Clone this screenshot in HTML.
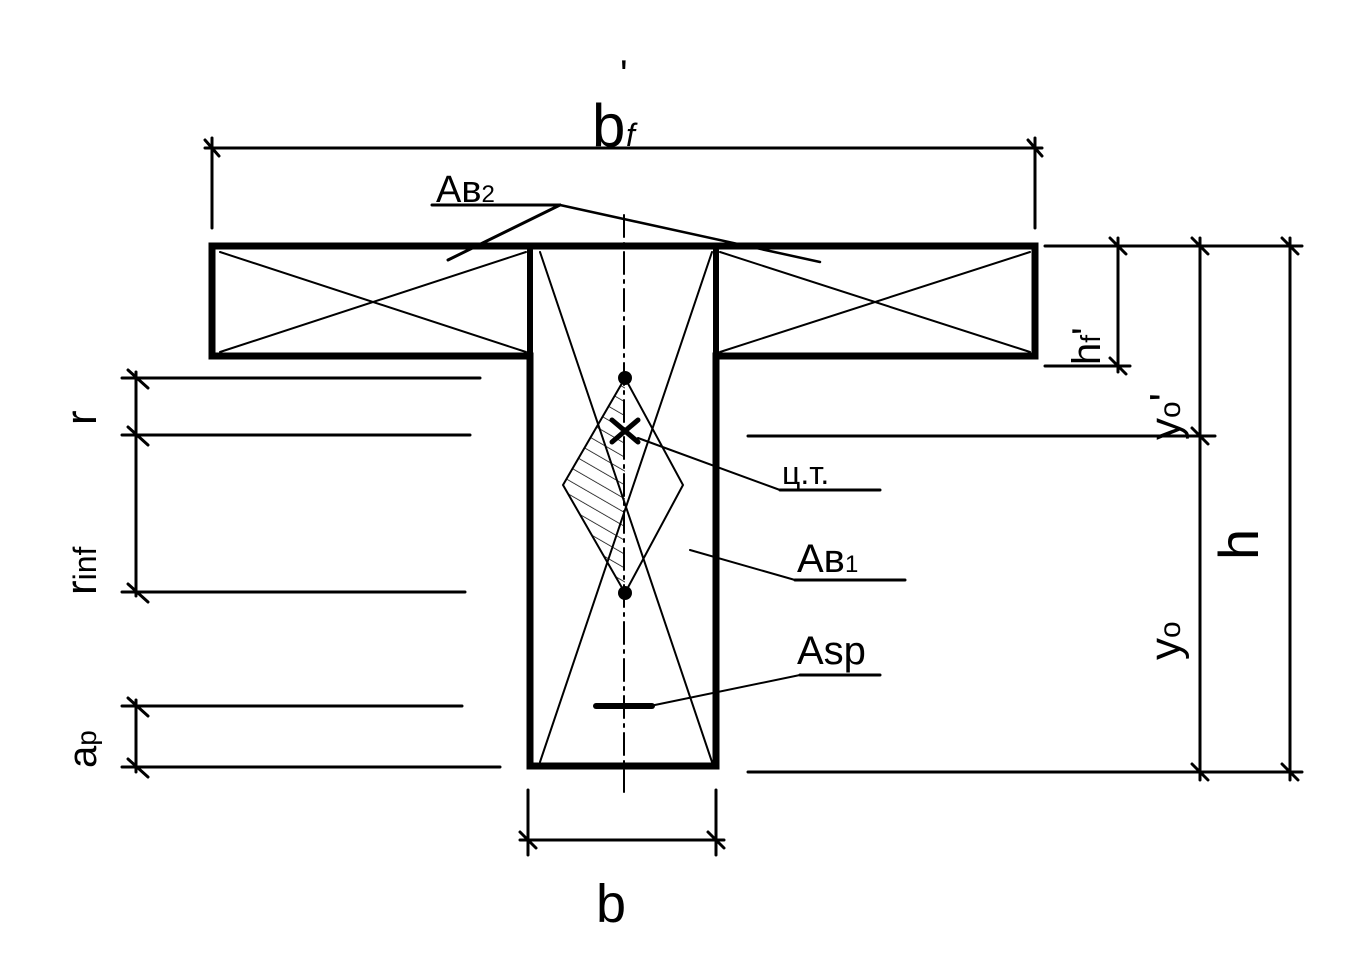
<!DOCTYPE html>
<html><head><style>body{margin:0;background:#fff}svg{display:block}</style></head>
<body>
<svg width="1370" height="980" viewBox="0 0 1370 980" xmlns="http://www.w3.org/2000/svg">
<defs>
<pattern id="h" width="12" height="12" patternUnits="userSpaceOnUse" patternTransform="rotate(-60)">
<line x1="0" y1="0" x2="0" y2="12" stroke="#000" stroke-width="1.5"/></pattern>
<clipPath id="lh"><polygon points="625,378 563,485 625,593"/></clipPath>
</defs>
<g stroke="#000" fill="none" stroke-linecap="round">
<path d="M212,246 L1035,246 L1035,356 L716,356 L716,766 L530,766 L530,356 L212,356 Z" stroke-width="7"/>
<line x1="530" y1="250" x2="530" y2="356" stroke-width="6"/>
<line x1="716" y1="250" x2="716" y2="356" stroke-width="6"/>
<g stroke-width="2">
<line x1="220" y1="252" x2="526" y2="352"/><line x1="220" y1="352" x2="526" y2="252"/>
<line x1="720" y1="252" x2="1030" y2="352"/><line x1="720" y1="352" x2="1030" y2="252"/>
<line x1="540" y1="252" x2="712" y2="762"/><line x1="712" y1="252" x2="540" y2="762"/>
</g>
<line x1="624" y1="215" x2="624" y2="792" stroke-width="2" stroke-dasharray="22,6,3,6"/>
<polygon points="625,378 683,485 625,593 563,485" stroke-width="2"/>
<polygon points="625,378 563,485 625,593" fill="url(#h)" stroke="none" clip-path="url(#lh)"/>
<path d="M612,420 L638,442 M638,420 L612,442" stroke-width="5"/>
<line x1="638" y1="438" x2="780" y2="490" stroke-width="2"/>
<line x1="780" y1="490" x2="880" y2="490" stroke-width="3"/>
<line x1="690" y1="550" x2="795" y2="580" stroke-width="2"/>
<line x1="795" y1="580" x2="905" y2="580" stroke-width="3"/>
<line x1="596" y1="706" x2="652" y2="706" stroke-width="6"/>
<line x1="650" y1="706" x2="800" y2="675" stroke-width="2"/>
<line x1="800" y1="675" x2="880" y2="675" stroke-width="3"/>
<line x1="432" y1="205" x2="560" y2="205" stroke-width="3"/>
<line x1="560" y1="205" x2="448" y2="260" stroke-width="3"/>
<line x1="560" y1="205" x2="820" y2="262" stroke-width="2.5"/>
<g stroke-width="3">
<line x1="205" y1="148" x2="1042" y2="148"/>
<line x1="212" y1="138" x2="212" y2="228"/><line x1="1035" y1="138" x2="1035" y2="228"/>
<line x1="205" y1="140" x2="219" y2="156"/><line x1="1028" y1="140" x2="1042" y2="156"/>
<line x1="1045" y1="246" x2="1302" y2="246"/>
<line x1="1045" y1="366" x2="1130" y2="366"/>
<line x1="748" y1="436" x2="1215" y2="436"/>
<line x1="748" y1="772" x2="1302" y2="772"/>
<line x1="1118" y1="238" x2="1118" y2="372"/>
<line x1="1200" y1="238" x2="1200" y2="780"/>
<line x1="1290" y1="238" x2="1290" y2="780"/>
<line x1="1110" y1="238" x2="1126" y2="254"/><line x1="1110" y1="358" x2="1126" y2="374"/>
<line x1="1192" y1="238" x2="1208" y2="254"/><line x1="1192" y1="428" x2="1208" y2="444"/><line x1="1192" y1="764" x2="1208" y2="780"/>
<line x1="1282" y1="238" x2="1298" y2="254"/><line x1="1282" y1="764" x2="1298" y2="780"/>
<line x1="122" y1="378" x2="480" y2="378"/>
<line x1="122" y1="435" x2="470" y2="435"/>
<line x1="122" y1="592" x2="465" y2="592"/>
<line x1="122" y1="706" x2="462" y2="706"/>
<line x1="122" y1="767" x2="500" y2="767"/>
<line x1="136" y1="372" x2="136" y2="596"/>
<line x1="136" y1="700" x2="136" y2="772"/>
<line x1="128" y1="370" x2="148" y2="388"/><line x1="128" y1="427" x2="148" y2="445"/><line x1="128" y1="584" x2="148" y2="602"/>
<line x1="128" y1="698" x2="148" y2="716"/><line x1="128" y1="759" x2="148" y2="777"/>
<line x1="520" y1="840" x2="724" y2="840"/>
<line x1="528" y1="790" x2="528" y2="855"/><line x1="716" y1="790" x2="716" y2="855"/>
<line x1="520" y1="832" x2="536" y2="848"/><line x1="708" y1="832" x2="724" y2="848"/>
</g>
</g>
<circle cx="625" cy="378" r="7"/><circle cx="625" cy="593" r="7"/>
<g font-family="Liberation Sans, sans-serif" fill="#000">
<text x="592" y="146" font-size="60">b</text><text x="626" y="146" font-size="32" font-style="italic">f</text><text x="620" y="88" font-size="40">'</text>
<text x="436" y="202" font-size="38">Aв<tspan font-size="24">2</tspan></text>
<text x="782" y="484" font-size="32">ц.т.</text>
<text x="797" y="572" font-size="40">Aв<tspan font-size="24">1</tspan></text>
<text x="797" y="664" font-size="40">Asp</text>
<text x="596" y="922" font-size="54">b</text>
<text transform="translate(96,425) rotate(-90)" font-size="44">r</text>
<text transform="translate(96,595) rotate(-90)" font-size="44">r<tspan font-size="32">inf</tspan></text>
<text transform="translate(96,768) rotate(-90)" font-size="40">a<tspan font-size="28">p</tspan></text>
<text transform="translate(1100,365) rotate(-90)" font-size="40">h<tspan font-size="28">f</tspan>'</text>
<text transform="translate(1180,440) rotate(-90)" font-size="44">y<tspan font-size="30">o</tspan>'</text>
<text transform="translate(1258,560) rotate(-90)" font-size="56">h</text>
<text transform="translate(1180,660) rotate(-90)" font-size="44">y<tspan font-size="30">o</tspan></text>
</g>
</svg>
</body></html>
